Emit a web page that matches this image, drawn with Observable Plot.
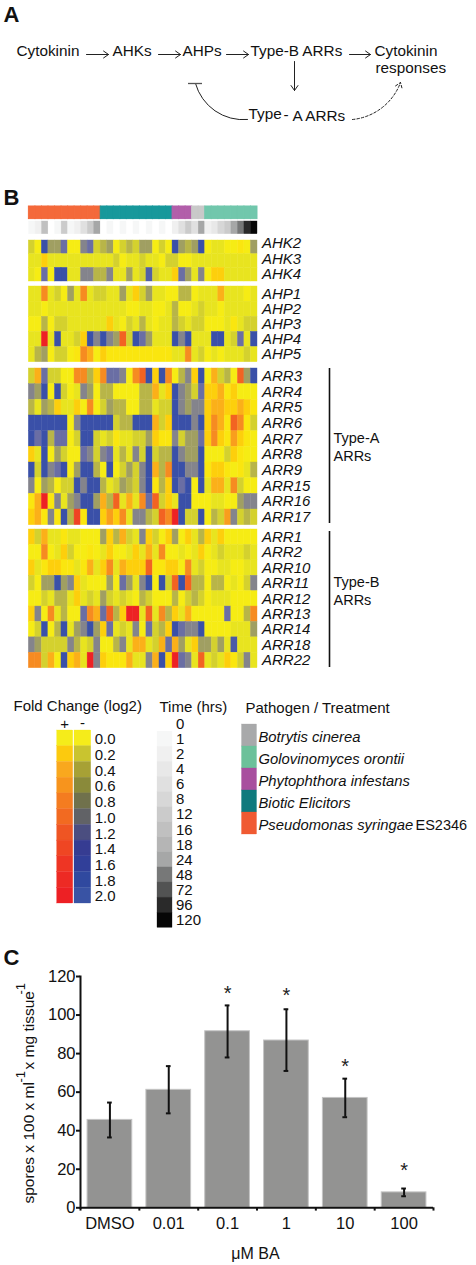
<!DOCTYPE html>
<html><head><meta charset="utf-8">
<style>
html,body{margin:0;padding:0;background:#fff}
#page{position:relative;width:476px;height:1265px;overflow:hidden;font-family:"Liberation Sans",Arial,sans-serif}
#page svg{position:absolute;left:0;background:transparent;overflow:visible;font-family:"Liberation Sans",Arial,sans-serif;color:#1a1a1a}
</style>
<script src="https://cdn.jsdelivr.net/npm/d3@7"></script>
<script src="https://cdn.jsdelivr.net/npm/@observablehq/plot@0.6"></script>
</head><body><div id="page"></div>
<script>
// ---------- Panel A pathway ----------
const pathNodes = [
 {t:"Cytokinin",x:16,y:51},{t:"AHKs",x:112,y:51},{t:"AHPs",x:182,y:51},{t:"Type-B ARRs",x:250,y:51},
 {t:"Cytokinin",x:374,y:51},{t:"responses",x:375,y:68},{t:"Type",x:248,y:114},{t:"-",x:283,y:115},{t:"A ARRs",x:292,y:116}];
const pathArrows = [
 {x1:86,y1:54,x2:108,y2:54},{x1:158,y1:54,x2:180,y2:54},{x1:226,y1:54,x2:248,y2:54},
 {x1:349,y1:54,x2:370,y2:54},{x1:294,y1:61,x2:294,y2:90}];
const inhibitCurve = [{x1:247,y1:119,x2:195,y2:83}];
const inhibitBar = [{x1:188,x2:202,y:83}];
const dashedArrow = [{x1:352,y1:119,x2:400,y2:82}];
const panelLetters = [{t:"A",x:3,y:14},{t:"B",x:3,y:197},{t:"C",x:3,y:957}];

// ---------- Panel B heat map: log2 fold change per column ----------
const AHK2=[-.2,0,-1.8,-.6,-.6,-1.2,0,0,-.9,-1.2,-.2,-.4,-.6,0,-.2,-.4,-.2,-.6,-.6,0,-.2,0,-1.8,-.6,-.4,-.6,-1.8,0,-.1,-.1,0,0,.1,0,-.6];
const AHK3=[-.1,-.1,.2,-.1,-.1,-.1,-.1,-.1,-.1,-.1,-.1,-.1,-.1,-.2,0,-.1,-.1,-.2,-.1,-.1,0,-.2,-.2,0,0,-.1,-.1,-.1,-.1,-.1,-.1,-.1,-.1,-.1,-.1];
const AHK4=[-.1,0,-1.2,0,-1.8,-1.8,-.1,-.1,-.9,-.9,-.4,-.4,-.9,-.1,-.1,-.6,-.1,-.2,-1.5,-.2,-.1,-.1,.2,-1.2,-.6,-.1,-.9,0,.2,.2,-.1,-.1,-.1,-.1,-.1];
const AHK_rows={AHK2,AHK3,AHK4};
const AHP1=[-.1,-.1,.8,-.1,-.2,0,-.6,-.1,.8,-.1,-.2,-.2,-.1,-.1,-.6,-.1,.2,-.2,-.6,-.1,-.1,0,0,-.4,-.4,0,-.1,-.1,-.1,.4,-.1,-.1,-.1,0,-.1];
const AHP2=[-.1,-.1,0,-.1,-.1,-.1,-.1,-.1,-.1,-.1,-.1,-.1,-.1,-.1,-.1,0,0,-.1,-.1,0,0,-.1,-.4,0,0,-.1,-.2,-.1,-.1,0,-.1,-.1,-.1,-.1,-.1];
const AHP3=[0,0,-.4,0,-.2,-.2,-.1,-.1,-.1,-.1,-.1,-.1,.2,-.1,0,-.2,-.1,-.4,-.1,0,-.1,-.1,-.4,-.2,-.1,-.2,-.2,0,0,0,-.1,.1,-.1,-.2,-.2];
const AHP4=[-.1,-.1,2,-.1,-1.8,-.1,-.1,-.2,.2,-1.8,-.9,-1.8,-.9,-.6,1.2,-.2,-1.8,-1.2,-.6,-.1,-.1,-.1,-1.8,-.9,-1.8,-.1,-.1,-.1,-1.8,-1.8,-.1,-.2,-1.2,-.1,-1.8];
const AHP5=[-.1,-.4,-.6,0,-.2,-.2,0,.1,.8,.4,0,.2,.1,.1,.1,.1,.1,.1,.1,.1,.1,.1,-.1,-.1,.8,-.1,-.2,0,-.1,0,-.1,-.1,-.1,-.2,-.1];
const AHP_rows={AHP1,AHP2,AHP3,AHP4,AHP5};
const ARR3=[-.2,.4,-1.2,-.2,-.2,0,0,.8,.8,-.4,.2,.8,-1.2,-1.2,-.9,0,.8,1.2,-1.8,.2,-1.8,.8,0,-.4,-.9,.2,-1.8,0,.4,-.2,-.4,0,1.2,-.6,-1.8];
const ARR4=[-.9,-.6,-1.8,0,-1.8,-.2,0,-.1,-.9,-.6,0,-.4,-.4,0,0,0,0,-.4,-.4,.4,-.1,.2,-1.8,-.9,-.6,-.2,-1.2,.2,.2,.4,.1,.2,0,0,0];
const ARR5=[-.4,-.1,-.6,-.4,.2,-.1,-.1,.2,0,.8,0,-.2,-.6,-.4,-.4,0,0,-.4,-.4,-.1,-.2,-.2,-1.8,-.9,-.6,-.9,-.9,.2,.4,.4,.2,.2,.4,.2,.1];
const ARR6=[-1.8,-1.8,-1.8,-1.8,-1.8,-1.8,0,-.9,-1.8,-1.8,-1.8,-1.8,-1.8,-.2,-.4,-.4,-1.8,-1.8,-1.8,.4,-.2,.2,-1.8,-1.8,-1.8,-.9,-1.8,.2,.8,.4,.1,1.2,.8,.1,-.2];
const ARR7=[-1.8,-1.2,-1.8,-.4,-1.2,-1.2,0,-.2,-1.8,-1.8,-.2,-.1,-.2,.1,-.1,-.1,-.2,-.2,-.6,.2,.1,.1,-.9,-.2,-.6,-.6,-1.2,.2,.8,.2,.1,.6,.2,.1,0];
const ARR8=[.2,-.1,-1.8,0,-.6,-.2,0,0,-1.2,-.9,-.2,-.9,-1.2,-.1,-.4,-.1,-.9,-.2,-1.8,-.2,-.4,-.4,-1.8,-.9,-.6,-.6,-1.8,0,0,0,-.2,.2,.1,0,0];
const ARR9=[-1.8,-.2,-1.8,-.9,-1.2,-1.8,0,-.6,-1.8,-1.8,-.4,0,-1.8,0,-.2,-.6,-.2,-.9,-1.8,.4,-.4,.8,-1.8,-1.8,-.9,-.9,-1.8,.1,.2,.2,.1,0,.1,-.1,-.4];
const ARR15=[-.9,0,-.6,-.4,0,-.2,-.2,-1.8,-.9,-1.8,-1.8,-.4,-.1,-.2,-.6,-.4,-.2,-.9,-1.8,.1,-.4,.2,-1.8,-1.2,-1.8,0,-1.8,-.1,.4,.4,-.1,.8,-.2,0,0];
const ARR16=[.1,.4,2,.1,-.9,-.1,-.6,-.9,-1.8,-1.8,-.6,.4,-.4,1.2,-.1,.4,-.1,.8,-1.2,1.2,-.2,.2,-.1,-1.8,-1.8,0,0,0,-.1,-.1,0,0,-.6,-.9,-.9];
const ARR17=[.2,.4,.1,-.9,.1,-1.8,-.4,1.6,.1,-1.8,-1.8,.2,.6,.2,.8,-.1,-.9,-.9,-.4,-.2,1.2,.8,2,-1.8,-.2,-.2,-1.8,0,-.4,-.2,.6,-.9,-.2,-.4,-.2];
const ARRA_rows={ARR3,ARR4,ARR5,ARR6,ARR7,ARR8,ARR9,ARR15,ARR16,ARR17};
const ARR1=[.2,-.2,.4,-.1,-.1,.1,-.1,-.1,0,0,0,-.6,.2,-.4,.4,-.2,-.1,-.9,.2,-.2,0,.2,-.6,0,.2,-.1,-.4,.2,-.1,.2,0,0,0,0,0];
const ARR2=[0,0,.8,0,-.1,.2,-.2,0,0,.1,0,-.1,.2,0,0,-.1,.2,-.1,.4,-.1,.8,0,0,-.1,0,-.1,.2,0,-.1,-.2,-.1,-.1,-.1,-.2,-.1];
const ARR10=[.2,-.1,.1,.2,.2,.1,.1,-.1,.1,.4,-.1,.2,.8,-.1,.4,.2,.2,.2,1.2,.1,.1,.2,.2,0,.8,-.1,-.2,0,0,-.1,-.1,0,0,-.1,-.1];
const ARR11=[-.2,0,-.6,-.6,-1.8,-.6,-.9,.2,-.1,0,0,0,-.6,0,-1.2,-.6,-.1,-.9,-1.8,0,-1.8,-.2,1.2,-1.8,1.2,-.4,-.4,0,-.4,-.4,0,-.1,0,-.2,-.9];
const ARR12=[0,0,-.2,-.1,-.4,-.4,-.1,.2,-.1,-.2,-.1,-.6,-.2,-.1,-.2,-.1,0,-.4,-.2,0,0,0,-.4,0,-.2,-.4,-.2,0,-.1,-.1,-.1,0,0,0,0];
const ARR13=[.2,-.9,0,.8,-.1,-.4,0,0,-1.2,.8,.4,-1.2,1.2,-.4,.2,2,2,-.1,1.2,-.1,.8,-.4,.2,-.1,.4,0,0,0,0,0,-1.2,0,0,-.4,.8];
const ARR14=[0,-.2,-1.8,0,-.4,-1.8,-.1,-.6,-.9,-1.8,-.6,.2,-1.2,-.1,-.2,-.1,-.9,0,-1.2,-.2,-.4,.2,-1.8,-1.2,-.9,-.9,-1.8,0,0,0,0,-.1,-.1,-.1,-.6];
const ARR18=[-.9,-.6,-.2,-.2,-.2,-.2,-.9,-.4,-.1,-.2,-.9,0,0,-.4,-.9,-.1,.4,.4,-.1,-.2,.4,-1.2,.4,-.6,-.1,.2,-.6,-.6,-.2,-.6,-.1,-1.6,-.1,-.1,-.1];
const ARR22=[.8,.8,-.2,.4,0,-1.8,.2,.4,-.1,2,-.9,.2,.1,.1,.1,.4,-.1,-.1,-.9,.4,-1.8,.2,2,-1.2,-.9,-.1,1.2,-.1,-.2,-.1,.2,.1,-.2,-.9,-.1];
const ARRB_rows={ARR1,ARR2,ARR10,ARR11,ARR12,ARR13,ARR14,ARR18,ARR22};
const ahkLabelY = [243,259,274];

const colIndex = d3.range(35);
const heatDomain = [-2,-1.8,-1.2,-.9,-.6,-.4,-.2,-.1,0,.1,.2,.4,.8,1.2,2];
const heatRange  = ["#3852a6","#3a50a8","#6a6ea4","#84848c","#a09f62","#b8b548","#d4d12e","#e8e41f","#f6ec14","#fae60f","#fdcf0c","#fbb019","#f68b21","#f26322","#ed2224"];

const treatNames = ["Pseudomonas syringae ES2346","Biotic Elicitors","Phytophthora infestans","Botrytis cinerea","Golovinomyces orontii"];
const treatCounts = [11,11,3,2,8];
const treatBarColors = ["#f4693a","#17989b","#b25faa","#c9c9c9","#71c7ac"];
const timeByCol = [1,2,16,0,1,12,1,2,6,12,24,0,1,0,1,0,1,0,1,0,1,0,2,6,12,6,24,2,4,8,12,24,48,96,120];

// ---------- Legends ----------
const foldLabels = ["0.0","0.2","0.4","0.6","0.8","1.0","1.2","1.4","1.6","1.8","2.0"];
const foldPlusColors  = ["#f5ec1a","#fcca0e","#f9a81e","#f7941d","#f47c20","#f26a21","#ef5523","#ef4623","#ee3524","#ed2a24","#ed2024"];
const foldMinusColors = ["#f5ec1a","#c9c42f","#a7a135","#8a8a3a","#70714c","#616266","#4b4e80","#363c92","#313f99","#30499f","#3953a4"];
const timeLabels = ["0","1","2","4","6","8","12","16","18","24","48","72","96","120"];
const timeColors = ["#ffffff","#f6f7f7","#f0f0f0","#e8e8e8","#e0e0e0","#d7d7d7","#cbcbcb","#c0c0c0","#b5b5b5","#a6a7a7","#777878","#525353","#2a2a2a","#060606"];
const legendNames = ["Botrytis cinerea","Golovinomyces orontii","Phytophthora infestans","Biotic Elicitors","Pseudomonas syringae"];
const legendColors = ["#a8a9aa","#6cc19a","#a84f9e","#0f7a7d","#f05a32"];

// ---------- Panel C bars ----------
const doses = ["DMSO","0.01","0.1","1","10","100"];
const spores = [45.6,61.2,91.6,86.8,57,8];
const errLow = [36.5,49,78,71,47,6];
const errHigh = [54.6,73.5,105,103,67,10];
const starY = [null,null,112.5,111.5,75,21];
const barData = doses.map((d,i)=>({d,v:spores[i],lo:errLow[i],hi:errHigh[i],s:starY[i]}));

// ---------- helpers ----------
const page = document.getElementById("page");
function place(svg, top){ svg.style.top = top+"px"; page.appendChild(svg); return svg; }
function sheet(top, height, marks){
  return place(Plot.plot({width:476,height,margin:0,
    x:{type:"linear",domain:[0,476],range:[0,476],axis:null},
    y:{type:"linear",domain:[top,top+height],range:[0,height],axis:null},
    style:{background:"transparent"},marks}), top);
}
const bandX = {type:"band",domain:colIndex,padding:0,round:false,axis:null};
function heat(rows, top, bottom, withAxis=true){
  const names = Object.keys(rows);
  const cells = names.flatMap(n=>rows[n].map((v,k)=>({n,k,v})));
  return place(Plot.plot({width:476,height:bottom-top,marginLeft:28.3,marginRight:219,marginTop:0,marginBottom:0,
    x:bandX,
    y:{type:"band",domain:names,padding:0,round:false,axis:null},
    color:{type:"linear",domain:heatDomain,range:heatRange,interpolate:"rgb",clamp:true},
    style:{background:"transparent"},
    marks:[
      Plot.cell(cells,{x:"k",y:"n",fill:"v",stroke:"v",strokeWidth:.4,imageFilter:"blur(0.45px)"}),
      ...(withAxis?[Plot.axisY({anchor:"right",tickSize:0,tickPadding:4.5,label:null,fontSize:15,fontStyle:"italic",fill:"#111"})]:[])
    ]}), top);
}

// ---------- Panel letters + Panel A ----------
sheet(0,190,[
  Plot.text(panelLetters.slice(0,1),{x:"x",y:"y",text:"t",textAnchor:"start",fontSize:22,fontWeight:"bold",fill:"#111"}),
  Plot.text(pathNodes,{x:"x",y:"y",text:"t",textAnchor:"start",fontSize:15.3,fill:"#111"}),
  Plot.arrow(pathArrows,{x1:"x1",y1:"y1",x2:"x2",y2:"y2",headLength:9,headAngle:70,strokeWidth:1,stroke:"#222"}),
  Plot.arrow(inhibitCurve,{x1:"x1",y1:"y1",x2:"x2",y2:"y2",bend:40,headLength:0,strokeWidth:1,stroke:"#222"}),
  Plot.ruleY(inhibitBar,{y:"y",x1:"x1",x2:"x2",strokeWidth:1.3,stroke:"#555"}),
  Plot.arrow(dashedArrow,{x1:"x1",y1:"y1",x2:"x2",y2:"y2",bend:-32,headLength:9,headAngle:70,strokeWidth:1,stroke:"#222",strokeDasharray:"2.5,2"})
]);

// ---------- Panel B header strips ----------
const treatPerCol = treatNames.flatMap((n,i)=>d3.range(treatCounts[i]).map(()=>n));
place(Plot.plot({width:476,height:12.6,marginLeft:28.3,marginRight:219,marginTop:0,marginBottom:0,x:bandX,y:{axis:null},
  color:{type:"ordinal",domain:treatNames,range:treatBarColors},style:{background:"transparent"},
  marks:[Plot.cell(colIndex,{x:d=>d,fill:d=>treatPerCol[d],stroke:d=>treatPerCol[d],strokeWidth:1,imageFilter:"blur(0.3px)"})]}),205.7);
place(Plot.plot({width:476,height:12.7,marginLeft:28.3,marginRight:219,marginTop:0,marginBottom:0,x:bandX,y:{axis:null},
  color:{type:"ordinal",domain:timeLabels.map(Number),range:timeColors},style:{background:"transparent"},
  marks:[Plot.cell(colIndex,{x:d=>d,fill:d=>timeByCol[d],stroke:d=>timeByCol[d],strokeWidth:.4,imageFilter:"blur(0.45px)"})]}),221);

heat(AHK_rows,240,281,false);
heat(AHP_rows,286,361.7);
heat(ARRA_rows,368,524.7);
heat(ARRB_rows,529,667.7);

// ---------- Panel B annotations, legend titles ----------
const typeLines = [{x:329,y1:368,y2:523},{x:329,y1:531,y2:667}];
const typeNotes = [{t:"Type-A",x:333,y:438},{t:"ARRs",x:333,y:456},{t:"Type-B",x:333,y:582},{t:"ARRs",x:333,y:600}];
const legendTitles = [{t:"Fold Change (log2)",x:13,y:706},{t:"Time (hrs)",x:159,y:707},{t:"Pathogen / Treatment",x:245,y:708}];
const signs = [{t:"+",x:64,y:724},{t:"-",x:82,y:723}];
sheet(190,760,[
  Plot.text(panelLetters.slice(1,2),{x:"x",y:"y",text:"t",textAnchor:"start",fontSize:22,fontWeight:"bold",fill:"#111"}),
  Plot.text(Object.keys(AHK_rows).map((t,i)=>({t,y:ahkLabelY[i]})),{x:()=>261.5,y:"y",text:"t",textAnchor:"start",fontSize:15,fontStyle:"italic",fill:"#111"}),
  Plot.ruleX(typeLines,{x:"x",y1:"y1",y2:"y2",strokeWidth:1.6,stroke:"#111"}),
  Plot.text(typeNotes,{x:"x",y:"y",text:"t",textAnchor:"start",fontSize:14.5,fill:"#111"}),
  Plot.text(legendTitles,{x:"x",y:"y",text:"t",textAnchor:"start",fontSize:15,fill:"#111"}),
  Plot.text(signs,{x:"x",y:"y",text:"t",fontSize:15,fill:"#111"}),
  Plot.text([{t:"ES2346",x:415,y:825}],{x:"x",y:"y",text:"t",textAnchor:"start",fontSize:14.5,fill:"#111"})
]);

// ---------- Legends ----------
function swatch(labels, colors, left, right, top, bottom, opts={}){
  const {axis=true, pad=3, dy=0, fs=15}=opts;
  return place(Plot.plot({width:476,height:bottom-top,marginLeft:left,marginRight:476-right,marginTop:0,marginBottom:0,
    x:{axis:null},y:{type:"band",domain:labels,padding:0,round:false,axis:null},
    color:{type:"ordinal",domain:labels,range:colors},style:{background:"transparent"},
    marks:[
      Plot.cell(labels,{y:d=>d,fill:d=>d,stroke:d=>d,strokeWidth:.3}),
      ...(axis?[Plot.axisY({anchor:"right",tickSize:0,tickPadding:pad,label:null,fontSize:fs,fill:"#111",dy,fontStyle:opts.style||"normal"})]:[])
    ]}), top);
}
swatch(foldLabels,foldPlusColors,56.7,72.7,730,903,{axis:false});
swatch(foldLabels,foldMinusColors,74,90.7,730,903,{pad:3.5,dy:1});
swatch(timeLabels,timeColors,157,172,716,927.3,{pad:3.5});
swatch(legendNames,legendColors,241.5,256.5,724,834,{pad:1.5,dy:2,style:"italic",fs:14.8});

// ---------- Panel C ----------
const C = Plot.plot({width:476,height:290,marginLeft:80,marginRight:43,marginTop:16,marginBottom:42.7,
  x:{type:"band",domain:doses,paddingInner:.24,paddingOuter:.12,round:false,axis:null},
  y:{domain:[0,120],axis:null},
  style:{background:"transparent"},
  marks:[
    Plot.barY(barData,{x:"d",y:"v",fill:"#939392",stroke:"#c4c4c4",strokeWidth:1}),
    Plot.ruleX(barData,{x:"d",y1:"lo",y2:"hi",strokeWidth:2,stroke:"#111"}),
    Plot.tickY(barData,{x:"d",y:"lo",strokeWidth:2,stroke:"#111",insetLeft:20,insetRight:20}),
    Plot.tickY(barData,{x:"d",y:"hi",strokeWidth:2,stroke:"#111",insetLeft:20,insetRight:20}),
    Plot.text(barData.filter(d=>d.s!=null),{x:"d",y:"s",text:()=>"*",fontSize:20,dy:3,fill:"#222"}),
    Plot.ruleY([0],{strokeWidth:2,stroke:"#111"}),
    Plot.ruleX(doses,{x:d=>d,y1:0,y2:-1.7,dx:-29.4,strokeWidth:2,stroke:"#111"}),
    Plot.ruleX(doses.slice(-1),{x:d=>d,y1:0,y2:-1.7,dx:29.4,strokeWidth:2,stroke:"#111"}),
    Plot.axisY({ticks:[0,20,40,60,80,100,120],tickSize:4,tickPadding:1,label:null,strokeWidth:2,fontSize:16.5,fill:"#111",stroke:"#111"}),
    Plot.frame({anchor:"left",strokeWidth:2,stroke:"#111"}),
    Plot.axisX({tickSize:0,tickPadding:9,label:null,fontSize:16.5,fill:"#111"})
  ]});
place(C,960);
const yLabelMain = [{t:"spores x 100 x ml",y:1203,x:29},{t:"x mg tissue",y:1069,x:29}];
const yLabelSup = [{t:"-1",y:1082,x:20},{t:"-1",y:994,x:20}];
sheet(950,315,[
  Plot.text(panelLetters.slice(2),{x:"x",y:"y",text:"t",textAnchor:"start",fontSize:22,fontWeight:"bold",fill:"#111"}),
  Plot.text(yLabelMain,{x:"x",y:"y",text:"t",rotate:-90,textAnchor:"start",fontSize:15.5,fill:"#111"}),
  Plot.text(yLabelSup,{x:"x",y:"y",text:"t",rotate:-90,textAnchor:"start",fontSize:13,fill:"#111"}),
  Plot.text([{t:"μM BA",x:255,y:1253}],{x:"x",y:"y",text:"t",fontSize:16,fill:"#111"})
]);
</script></body></html>
